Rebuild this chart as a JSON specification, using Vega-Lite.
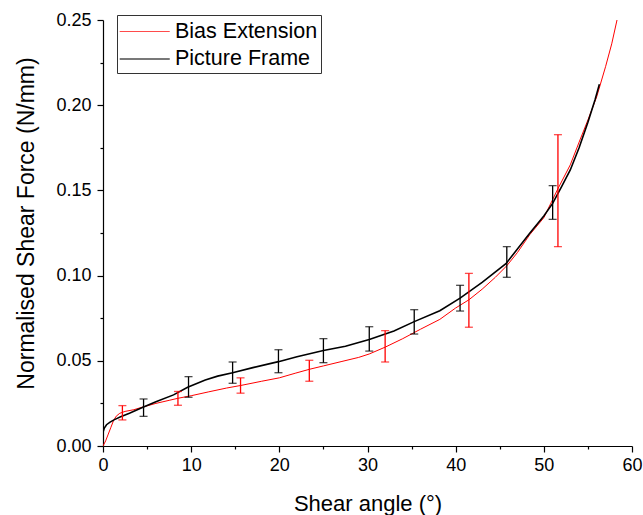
{
  "$schema": "https://vega.github.io/schema/vega-lite/v6.json",
  "width": 529,
  "height": 426,
  "autosize": {"type": "none"},
  "padding": {"left": 103, "top": 20, "right": 11, "bottom": 69},
  "background": "white",
  "config": {
    "view": {"stroke": null},
    "font": "Liberation Sans",
    "axis": {"grid": false, "domainColor": "black", "domainWidth": 1.2, "tickColor": "black", "tickWidth": 1.2, "labelColor": "black", "titleColor": "black", "labelFont": "Liberation Sans", "titleFont": "Liberation Sans", "titleFontWeight": "normal", "titleFontSize": 22}
  },
  "datasets": {
    "lines": [
      {"s": "Bias Extension", "x": 0, "y": 0},
      {"s": "Bias Extension", "x": 0.3, "y": 0.003},
      {"s": "Bias Extension", "x": 0.6, "y": 0.007},
      {"s": "Bias Extension", "x": 0.9, "y": 0.011},
      {"s": "Bias Extension", "x": 1.2, "y": 0.015},
      {"s": "Bias Extension", "x": 1.5, "y": 0.0175},
      {"s": "Bias Extension", "x": 1.9, "y": 0.0192},
      {"s": "Bias Extension", "x": 2.5, "y": 0.0203},
      {"s": "Bias Extension", "x": 3.5, "y": 0.0213},
      {"s": "Bias Extension", "x": 4.4, "y": 0.0227},
      {"s": "Bias Extension", "x": 6, "y": 0.025},
      {"s": "Bias Extension", "x": 7.5, "y": 0.0268},
      {"s": "Bias Extension", "x": 8.5, "y": 0.028},
      {"s": "Bias Extension", "x": 10, "y": 0.0295},
      {"s": "Bias Extension", "x": 12, "y": 0.0318},
      {"s": "Bias Extension", "x": 14, "y": 0.034},
      {"s": "Bias Extension", "x": 15.6, "y": 0.0355},
      {"s": "Bias Extension", "x": 18, "y": 0.038},
      {"s": "Bias Extension", "x": 20, "y": 0.04},
      {"s": "Bias Extension", "x": 21.8, "y": 0.0427},
      {"s": "Bias Extension", "x": 23.4, "y": 0.045},
      {"s": "Bias Extension", "x": 25, "y": 0.047},
      {"s": "Bias Extension", "x": 27, "y": 0.0495},
      {"s": "Bias Extension", "x": 29, "y": 0.052},
      {"s": "Bias Extension", "x": 30.2, "y": 0.054},
      {"s": "Bias Extension", "x": 32, "y": 0.058},
      {"s": "Bias Extension", "x": 34, "y": 0.063},
      {"s": "Bias Extension", "x": 36, "y": 0.0685},
      {"s": "Bias Extension", "x": 38.2, "y": 0.0743},
      {"s": "Bias Extension", "x": 40, "y": 0.081},
      {"s": "Bias Extension", "x": 41.5, "y": 0.0858},
      {"s": "Bias Extension", "x": 43, "y": 0.092},
      {"s": "Bias Extension", "x": 44.5, "y": 0.099},
      {"s": "Bias Extension", "x": 45.8, "y": 0.1058},
      {"s": "Bias Extension", "x": 47, "y": 0.1135},
      {"s": "Bias Extension", "x": 48.4, "y": 0.124},
      {"s": "Bias Extension", "x": 50, "y": 0.134},
      {"s": "Bias Extension", "x": 51.6, "y": 0.151},
      {"s": "Bias Extension", "x": 53, "y": 0.165},
      {"s": "Bias Extension", "x": 54.1, "y": 0.1796},
      {"s": "Bias Extension", "x": 55, "y": 0.1913},
      {"s": "Bias Extension", "x": 56, "y": 0.205},
      {"s": "Bias Extension", "x": 57, "y": 0.2226},
      {"s": "Bias Extension", "x": 57.7, "y": 0.236},
      {"s": "Bias Extension", "x": 58.3, "y": 0.25},
      {"s": "Picture Frame", "x": 0, "y": 0.008},
      {"s": "Picture Frame", "x": 0.15, "y": 0.0105},
      {"s": "Picture Frame", "x": 0.4, "y": 0.0125},
      {"s": "Picture Frame", "x": 0.8, "y": 0.014},
      {"s": "Picture Frame", "x": 1.3, "y": 0.0155},
      {"s": "Picture Frame", "x": 2, "y": 0.0172},
      {"s": "Picture Frame", "x": 3, "y": 0.0192},
      {"s": "Picture Frame", "x": 4.4, "y": 0.0225},
      {"s": "Picture Frame", "x": 6, "y": 0.026},
      {"s": "Picture Frame", "x": 8, "y": 0.03},
      {"s": "Picture Frame", "x": 9.6, "y": 0.0345},
      {"s": "Picture Frame", "x": 11.6, "y": 0.0387},
      {"s": "Picture Frame", "x": 13, "y": 0.041},
      {"s": "Picture Frame", "x": 14.7, "y": 0.043},
      {"s": "Picture Frame", "x": 17, "y": 0.046},
      {"s": "Picture Frame", "x": 19.9, "y": 0.0495},
      {"s": "Picture Frame", "x": 22, "y": 0.0524},
      {"s": "Picture Frame", "x": 25, "y": 0.056},
      {"s": "Picture Frame", "x": 27.5, "y": 0.0585},
      {"s": "Picture Frame", "x": 30.2, "y": 0.0625},
      {"s": "Picture Frame", "x": 33, "y": 0.0675},
      {"s": "Picture Frame", "x": 35.3, "y": 0.073},
      {"s": "Picture Frame", "x": 38.2, "y": 0.0794},
      {"s": "Picture Frame", "x": 40.5, "y": 0.0868},
      {"s": "Picture Frame", "x": 43, "y": 0.096},
      {"s": "Picture Frame", "x": 45.7, "y": 0.107},
      {"s": "Picture Frame", "x": 48.4, "y": 0.1248},
      {"s": "Picture Frame", "x": 50, "y": 0.135},
      {"s": "Picture Frame", "x": 51, "y": 0.1424},
      {"s": "Picture Frame", "x": 52, "y": 0.152},
      {"s": "Picture Frame", "x": 53, "y": 0.162},
      {"s": "Picture Frame", "x": 54, "y": 0.175},
      {"s": "Picture Frame", "x": 55, "y": 0.19},
      {"s": "Picture Frame", "x": 55.8, "y": 0.203},
      {"s": "Picture Frame", "x": 56.3, "y": 0.2123}
    ],
    "errors": [
      {"s": "Bias Extension", "x": 2.2, "lo": 0.0153, "hi": 0.0237},
      {"s": "Bias Extension", "x": 8.5, "lo": 0.0239, "hi": 0.032},
      {"s": "Bias Extension", "x": 15.6, "lo": 0.031, "hi": 0.04},
      {"s": "Bias Extension", "x": 23.4, "lo": 0.038, "hi": 0.0503},
      {"s": "Bias Extension", "x": 32.0, "lo": 0.0493, "hi": 0.0677},
      {"s": "Bias Extension", "x": 41.5, "lo": 0.0697, "hi": 0.1013},
      {"s": "Bias Extension", "x": 51.6, "lo": 0.117, "hi": 0.1827},
      {"s": "Picture Frame", "x": 4.6, "lo": 0.0174, "hi": 0.0276},
      {"s": "Picture Frame", "x": 9.7, "lo": 0.0286, "hi": 0.0407},
      {"s": "Picture Frame", "x": 14.7, "lo": 0.0368, "hi": 0.0493},
      {"s": "Picture Frame", "x": 19.9, "lo": 0.043, "hi": 0.0565},
      {"s": "Picture Frame", "x": 25.0, "lo": 0.0489, "hi": 0.063},
      {"s": "Picture Frame", "x": 30.2, "lo": 0.0557, "hi": 0.07},
      {"s": "Picture Frame", "x": 35.3, "lo": 0.0657, "hi": 0.08},
      {"s": "Picture Frame", "x": 40.5, "lo": 0.0792, "hi": 0.0943},
      {"s": "Picture Frame", "x": 45.8, "lo": 0.099, "hi": 0.117},
      {"s": "Picture Frame", "x": 51.0, "lo": 0.133, "hi": 0.1528}
    ]
  },
  "layer": [
    {
      "data": {"name": "lines"},
      "mark": {"type": "line", "clip": true},
      "encoding": {
        "x": {
          "field": "x", "type": "quantitative",
          "scale": {"domain": [0, 60], "nice": false, "zero": false},
          "axis": {
            "title": "Shear angle (°)",
            "values": [0, 5, 10, 15, 20, 25, 30, 35, 40, 45, 50, 55, 60],
            "labelExpr": "datum.value % 10 === 0 ? datum.label : ''",
            "tickSize": {"condition": {"test": "datum.value % 10 === 0", "value": 6}, "value": 3},
            "labelFontSize": 18,
            "labelPadding": 4,
            "labelFlush": false,
            "titleFontSize": 22,
            "titleBaseline": "alphabetic",
            "titleY": 64
          }
        },
        "y": {
          "field": "y", "type": "quantitative",
          "scale": {"domain": [0, 0.25], "nice": false},
          "axis": {
            "title": "Normalised Shear Force (N/mm)",
            "values": [0, 0.025, 0.05, 0.075, 0.1, 0.125, 0.15, 0.175, 0.2, 0.225, 0.25],
            "labelExpr": "abs(datum.value * 20 - round(datum.value * 20)) < 0.001 ? format(datum.value, '.2f') : ''",
            "tickSize": {"condition": {"test": "abs(datum.value * 20 - round(datum.value * 20)) < 0.001", "value": 6}, "value": 3},
            "labelFontSize": 18,
            "labelPadding": 6,
            "labelFlush": false,
            "titleFontSize": 23,
            "titleBaseline": "alphabetic",
            "titleX": -70,
            "titleY": 203
          }
        },
        "color": {
          "field": "s", "type": "nominal",
          "scale": {"domain": ["Bias Extension", "Picture Frame"], "range": ["#ff0000", "#000000"]},
          "legend": {
            "title": null,
            "orient": "none",
            "legendX": 14,
            "legendY": -5,
            "symbolType": "M -1.1 0 L 2.75 0",
            "symbolSize": 676,
            "symbolStrokeWidth": 1.5,
            "symbolFillColor": "transparent",
            "labelFontSize": 21.5,
            "labelFont": "Liberation Sans",
            "labelColor": "black",
            "labelOffset": 27,
            "strokeColor": "#333333",
            "padding": 3,
            "rowPadding": 3
          }
        },
        "strokeWidth": {
          "field": "s", "type": "nominal",
          "scale": {"domain": ["Bias Extension", "Picture Frame"], "range": [1, 1.6]},
          "legend": null
        }
      }
    },
    {
      "data": {"name": "errors"},
      "mark": {"type": "errorbar", "ticks": {"size": 8, "thickness": 1.3}, "thickness": 1.3},
      "encoding": {
        "x": {"field": "x", "type": "quantitative", "title": "Shear angle (°)"},
        "y": {"field": "lo", "type": "quantitative", "title": "Normalised Shear Force (N/mm)"},
        "y2": {"field": "hi"},
        "color": {"field": "s", "type": "nominal"}
      }
    }
  ]
}
